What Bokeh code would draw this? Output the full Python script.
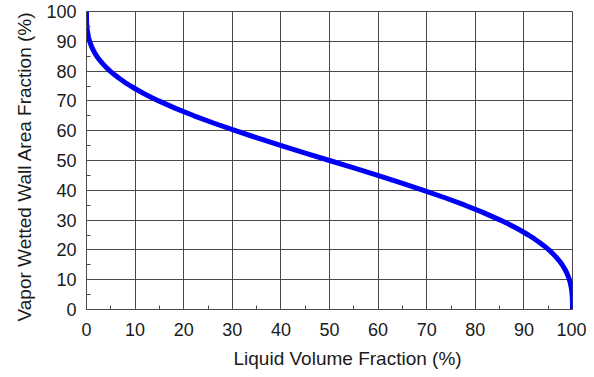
from bokeh.plotting import figure
from bokeh.models import Range1d, FixedTicker, Title
from bokeh.embed import file_html
from bokeh.resources import INLINE

# Liquid volume fraction (%) and vapor wetted wall area fraction (%)
liquid_pct = [0.0, 0.0007, 0.0053, 0.0178, 0.0347, 0.0818, 0.1594, 0.2745, 0.434, 0.645,
              0.914, 1.246, 1.648, 2.12, 2.679, 3.32, 4.046, 4.86, 5.775, 6.78,
              7.884, 9.08, 10.383, 11.78, 13.274, 14.86, 18.32, 22.12, 26.25, 30.65,
              35.28, 40.08, 45.01, 50.0, 54.99, 59.92, 64.72, 69.35, 73.75, 77.88,
              81.68, 85.14, 86.726, 88.22, 89.617, 90.92, 92.116, 93.22, 94.225, 95.14,
              95.954, 96.68, 97.321, 97.88, 98.352, 98.754, 99.086, 99.355, 99.566, 99.7255,
              99.8406, 99.9182, 99.9653, 99.9822, 99.9947, 99.9993, 100.0]
vapor_pct = [100.0, 99.0, 98.0, 97.0, 96.25, 95.0, 93.75, 92.5, 91.25, 90.0,
             88.75, 87.5, 86.25, 85.0, 83.75, 82.5, 81.25, 80.0, 78.75, 77.5,
             76.25, 75.0, 73.75, 72.5, 71.25, 70.0, 67.5, 65.0, 62.5, 60.0,
             57.5, 55.0, 52.5, 50.0, 47.5, 45.0, 42.5, 40.0, 37.5, 35.0,
             32.5, 30.0, 28.75, 27.5, 26.25, 25.0, 23.75, 22.5, 21.25, 20.0,
             18.75, 17.5, 16.25, 15.0, 13.75, 12.5, 11.25, 10.0, 8.75, 7.5,
             6.25, 5.0, 3.75, 3.0, 2.0, 1.0, 0.0]

major_ticks = [0, 10, 20, 30, 40, 50, 60, 70, 80, 90, 100]
x_title = "Liquid Volume Fraction (%)"
y_title = "Vapor Wetted Wall Area Fraction (%)"

p = figure(width=586, height=376, output_backend="svg", toolbar_location=None,
           x_range=Range1d(0, 100), y_range=Range1d(0, 100),
           min_border_left=86, min_border_right=14, min_border_top=11, min_border_bottom=62)

p.line(liquid_pct, vapor_pct, line_color="#0000F5", line_width=5, line_join="round")

grid_col = "#4a4a4a"
text_col = "#1a1a1a"
for ax in (p.xaxis[0], p.yaxis[0]):
    ax.ticker = FixedTicker(ticks=major_ticks, minor_ticks=[v + 5 for v in major_ticks[:-1]])
    ax.major_tick_in = 0
    ax.major_tick_out = 0
    ax.minor_tick_in = 4
    ax.minor_tick_out = 0
    ax.minor_tick_line_color = grid_col
    ax.axis_line_color = grid_col
    ax.major_label_text_font = "Liberation Sans"
    ax.major_label_text_font_size = "18px"
    ax.major_label_text_color = text_col

p.xaxis.major_label_standoff = 13
p.yaxis.major_label_standoff = 10

# axis titles as side titles (kept on one line)
p.add_layout(Title(text=x_title, align="left", offset=147, text_font="Liberation Sans",
                   text_font_size="19px", text_font_style="normal", text_color=text_col,
                   standoff=15), "below")
p.add_layout(Title(text=y_title, align="left", offset=-12, text_font="Liberation Sans",
                   text_font_size="19px", text_font_style="normal", text_color=text_col,
                   standoff=18), "left")

p.xgrid.grid_line_color = grid_col
p.ygrid.grid_line_color = grid_col
p.xgrid.grid_line_alpha = 1
p.ygrid.grid_line_alpha = 1
p.outline_line_color = grid_col
p.outline_line_alpha = 1

open("out.html", "w").write(file_html(p, INLINE))
